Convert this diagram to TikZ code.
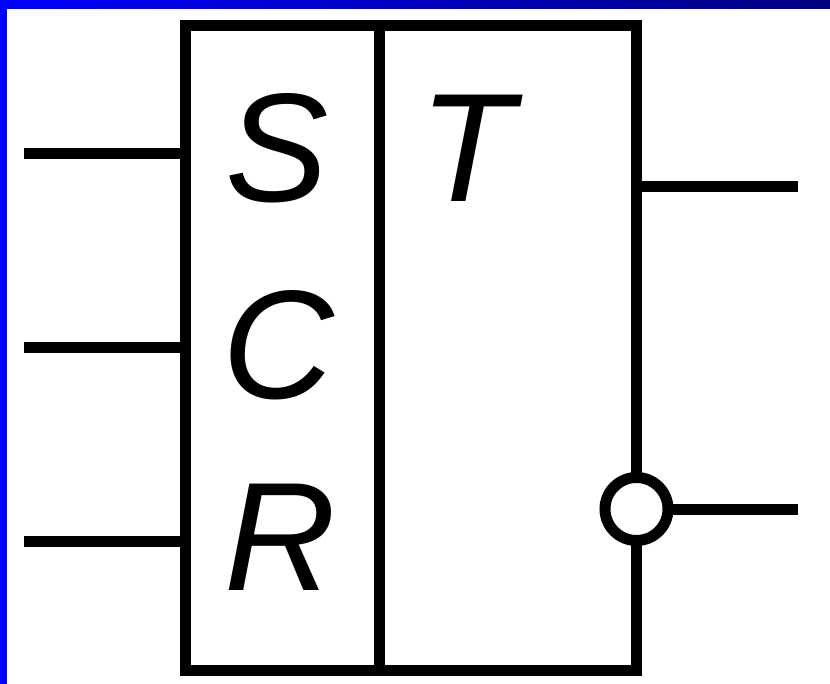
\documentclass[tikz,border=0pt]{standalone}
\usepackage{xcolor}
\definecolor{FrameBlue}{RGB}{0,0,255}
\definecolor{FrameNavy}{RGB}{0,0,130}
\usepackage{fontspec}
\setmainfont{Liberation Sans}
\usepackage{tikz}
\usetikzlibrary{positioning}
\tikzset{
	pin/.style={line width=0.275cm},
	letter/.style={font=\fontsize{110}{110}\selectfont\itshape, inner sep=0pt},
	bubble/.style={circle, draw, fill=white, line width=0.275cm, minimum size=1.575cm, inner sep=0pt, outer sep=0pt}
}

\begin{document}
\begin{tikzpicture}[x=0.025cm, y=-0.025cm]
	\useasboundingbox (0, 0) rectangle (830, 684);
	\fill[FrameBlue] (0, 0) rectangle (7, 684);
	\shade[left color=FrameBlue, right color=FrameNavy] (0, 0) rectangle (830, 8);
	% block with its divider
	\node[draw, line width=0.275cm, minimum width=11.2625cm, minimum height=16.1125cm, inner sep=0pt, outer sep=0pt] (block) at (410.75, 347.75) {};
	\coordinate (divtop) at (379, 25.5);
	\coordinate (divbot) at (379, 670);
	\draw[pin] (divtop) -- (divbot);
	% letters
	\node[letter] (S) at (277, 148) {S};
	\node[letter] (C) at (278, 345) {C};
	\node[letter] (R) at (280, 537) {R};
	\node[letter] (T) at (467, 148) {T};
	% inputs
	\coordinate (inS) at (24, 153.5);
	\coordinate (inC) at (24, 347);
	\coordinate (inR) at (24, 541);
	\foreach \pinname in {inS, inC, inR}
		\draw[pin] (\pinname) -- (\pinname -| block.west);
	% outputs
	\coordinate (outQ) at (798, 186);
	\coordinate (outN) at (798, 509);
	\node[bubble] (neg) at (636.5, 509) {};
	\draw[pin] (outQ -| block.east) -- (outQ);
	\draw[pin] (neg.east) -- (outN);
\end{tikzpicture}
\end{document}
